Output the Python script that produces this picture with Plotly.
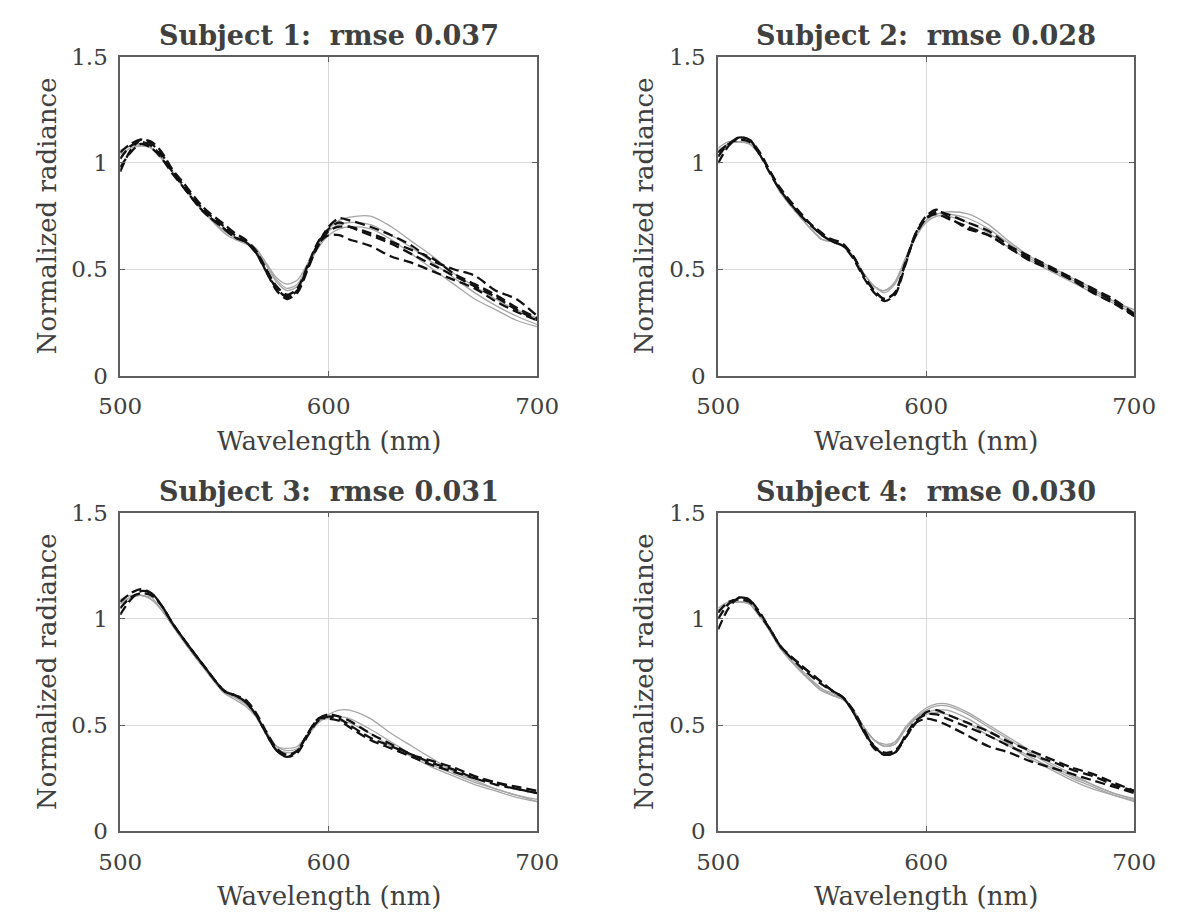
import plotly.graph_objects as go

# ---------------- data ----------------
wavelength = [500, 505, 510, 515, 520, 525, 530, 540, 550, 555, 560, 565, 570, 575, 580,
              585, 590, 595, 600, 605, 610, 620, 630, 640, 650, 660, 670, 680, 690, 700]

x_ticks = [500, 600, 700]
y_ticks = [0, 0.5, 1, 1.5]
y_tick_labels = ["0", "0.5", "1", "1.5"]

titles = ["Subject 1:  rmse 0.037", "Subject 2:  rmse 0.028",
          "Subject 3:  rmse 0.031", "Subject 4:  rmse 0.030"]

# Subject 1
s1_measured = [
    [0.96, 1.06, 1.11, 1.09, 1.04, 0.96, 0.90, 0.78, 0.70, 0.66, 0.63, 0.58, 0.49, 0.40, 0.36,
     0.39, 0.50, 0.62, 0.70, 0.74, 0.73, 0.70, 0.66, 0.61, 0.54, 0.50, 0.47, 0.40, 0.36, 0.28],
    [1.02, 1.08, 1.10, 1.08, 1.03, 0.96, 0.89, 0.77, 0.69, 0.65, 0.63, 0.58, 0.50, 0.41, 0.37,
     0.40, 0.51, 0.61, 0.68, 0.70, 0.70, 0.67, 0.63, 0.59, 0.55, 0.48, 0.43, 0.38, 0.32, 0.27],
    [1.05, 1.09, 1.11, 1.10, 1.05, 0.97, 0.91, 0.79, 0.71, 0.67, 0.64, 0.59, 0.50, 0.42, 0.38,
     0.41, 0.52, 0.63, 0.69, 0.72, 0.70, 0.66, 0.62, 0.57, 0.52, 0.47, 0.42, 0.37, 0.31, 0.26],
    [0.98, 1.05, 1.09, 1.07, 1.02, 0.95, 0.89, 0.77, 0.69, 0.65, 0.63, 0.58, 0.49, 0.41, 0.37,
     0.40, 0.51, 0.62, 0.66, 0.66, 0.64, 0.61, 0.56, 0.53, 0.49, 0.45, 0.41, 0.35, 0.30, 0.26],
]
s1_model = [
    [1.04, 1.07, 1.08, 1.07, 1.02, 0.96, 0.89, 0.77, 0.68, 0.65, 0.63, 0.60, 0.53, 0.46, 0.43,
     0.45, 0.53, 0.62, 0.69, 0.73, 0.745, 0.75, 0.70, 0.63, 0.56, 0.48, 0.42, 0.36, 0.31, 0.27],
    [1.06, 1.08, 1.09, 1.07, 1.02, 0.96, 0.89, 0.77, 0.67, 0.64, 0.62, 0.59, 0.52, 0.45, 0.41,
     0.43, 0.52, 0.61, 0.68, 0.71, 0.72, 0.71, 0.66, 0.60, 0.53, 0.46, 0.39, 0.33, 0.28, 0.24],
    [1.05, 1.08, 1.085, 1.07, 1.02, 0.96, 0.89, 0.77, 0.68, 0.65, 0.63, 0.59, 0.52, 0.44, 0.40,
     0.42, 0.51, 0.60, 0.66, 0.69, 0.70, 0.69, 0.64, 0.57, 0.50, 0.43, 0.36, 0.31, 0.26, 0.23],
]

# Subject 2
s2_measured = [
    [1.00, 1.08, 1.12, 1.11, 1.04, 0.95, 0.87, 0.75, 0.66, 0.63, 0.61, 0.55, 0.46, 0.39, 0.35,
     0.38, 0.52, 0.67, 0.75, 0.78, 0.75, 0.69, 0.66, 0.60, 0.55, 0.50, 0.45, 0.40, 0.35, 0.28],
    [1.03, 1.09, 1.11, 1.10, 1.04, 0.96, 0.87, 0.75, 0.67, 0.63, 0.61, 0.56, 0.47, 0.40, 0.36,
     0.39, 0.53, 0.66, 0.74, 0.77, 0.76, 0.72, 0.68, 0.61, 0.56, 0.51, 0.46, 0.41, 0.36, 0.29],
    [1.05, 1.09, 1.12, 1.11, 1.05, 0.96, 0.88, 0.76, 0.66, 0.64, 0.62, 0.56, 0.47, 0.40, 0.36,
     0.39, 0.53, 0.67, 0.74, 0.76, 0.74, 0.70, 0.66, 0.60, 0.54, 0.50, 0.45, 0.39, 0.34, 0.28],
]
s2_model = [
    [1.05, 1.09, 1.10, 1.09, 1.04, 0.95, 0.86, 0.74, 0.64, 0.63, 0.61, 0.56, 0.48, 0.42, 0.40,
     0.44, 0.55, 0.66, 0.73, 0.76, 0.76, 0.74, 0.69, 0.62, 0.55, 0.50, 0.45, 0.40, 0.35, 0.30],
    [1.06, 1.09, 1.10, 1.09, 1.04, 0.95, 0.86, 0.74, 0.64, 0.63, 0.61, 0.56, 0.48, 0.42, 0.39,
     0.43, 0.54, 0.65, 0.72, 0.75, 0.75, 0.72, 0.67, 0.60, 0.54, 0.49, 0.44, 0.39, 0.34, 0.29],
    [1.07, 1.10, 1.10, 1.09, 1.04, 0.95, 0.86, 0.74, 0.64, 0.63, 0.61, 0.56, 0.48, 0.42, 0.40,
     0.44, 0.55, 0.66, 0.73, 0.76, 0.77, 0.76, 0.71, 0.63, 0.56, 0.51, 0.46, 0.41, 0.35, 0.31],
]

# Subject 3
s3_measured = [
    [1.02, 1.09, 1.13, 1.12, 1.06, 0.98, 0.91, 0.78, 0.66, 0.64, 0.61, 0.55, 0.46, 0.38, 0.35,
     0.37, 0.45, 0.52, 0.54, 0.53, 0.50, 0.44, 0.40, 0.36, 0.32, 0.29, 0.25, 0.22, 0.20, 0.18],
    [1.08, 1.12, 1.14, 1.12, 1.06, 0.98, 0.91, 0.78, 0.66, 0.64, 0.61, 0.55, 0.46, 0.38, 0.35,
     0.38, 0.46, 0.53, 0.53, 0.52, 0.49, 0.43, 0.39, 0.35, 0.31, 0.28, 0.25, 0.23, 0.21, 0.19],
    [1.05, 1.10, 1.12, 1.11, 1.06, 0.98, 0.91, 0.78, 0.66, 0.64, 0.62, 0.56, 0.47, 0.39, 0.36,
     0.38, 0.46, 0.53, 0.55, 0.54, 0.52, 0.46, 0.41, 0.36, 0.33, 0.30, 0.26, 0.23, 0.20, 0.18],
]
s3_model = [
    [1.07, 1.10, 1.11, 1.09, 1.04, 0.97, 0.90, 0.77, 0.66, 0.63, 0.60, 0.55, 0.47, 0.40, 0.39,
     0.40, 0.46, 0.52, 0.55, 0.57, 0.57, 0.53, 0.46, 0.40, 0.34, 0.28, 0.24, 0.20, 0.17, 0.14],
    [1.08, 1.10, 1.11, 1.09, 1.04, 0.97, 0.90, 0.77, 0.65, 0.62, 0.59, 0.54, 0.46, 0.39, 0.37,
     0.38, 0.45, 0.51, 0.54, 0.54, 0.53, 0.48, 0.42, 0.36, 0.31, 0.27, 0.23, 0.20, 0.17, 0.15],
    [1.09, 1.11, 1.11, 1.10, 1.04, 0.97, 0.90, 0.77, 0.65, 0.63, 0.60, 0.55, 0.47, 0.40, 0.38,
     0.39, 0.46, 0.52, 0.53, 0.52, 0.51, 0.46, 0.40, 0.35, 0.30, 0.26, 0.22, 0.19, 0.16, 0.14],
]

# Subject 4
s4_measured = [
    [0.95, 1.05, 1.10, 1.09, 1.02, 0.95, 0.87, 0.78, 0.70, 0.66, 0.63, 0.56, 0.47, 0.39, 0.36,
     0.37, 0.44, 0.51, 0.56, 0.57, 0.55, 0.51, 0.47, 0.42, 0.38, 0.34, 0.30, 0.27, 0.23, 0.19],
    [1.00, 1.07, 1.10, 1.09, 1.03, 0.95, 0.87, 0.77, 0.69, 0.66, 0.63, 0.56, 0.47, 0.40, 0.36,
     0.37, 0.45, 0.52, 0.55, 0.55, 0.53, 0.49, 0.45, 0.40, 0.36, 0.33, 0.29, 0.26, 0.22, 0.19],
    [1.03, 1.08, 1.09, 1.08, 1.02, 0.95, 0.87, 0.78, 0.70, 0.66, 0.63, 0.57, 0.48, 0.40, 0.37,
     0.38, 0.44, 0.51, 0.53, 0.52, 0.50, 0.45, 0.40, 0.37, 0.33, 0.30, 0.27, 0.24, 0.21, 0.18],
]
s4_model = [
    [1.03, 1.07, 1.08, 1.07, 1.02, 0.94, 0.86, 0.75, 0.67, 0.64, 0.62, 0.57, 0.49, 0.43, 0.40,
     0.42, 0.48, 0.54, 0.58, 0.60, 0.60, 0.56, 0.50, 0.44, 0.38, 0.32, 0.27, 0.22, 0.18, 0.155],
    [1.04, 1.07, 1.08, 1.07, 1.01, 0.94, 0.86, 0.75, 0.66, 0.64, 0.62, 0.57, 0.49, 0.43, 0.40,
     0.41, 0.48, 0.53, 0.57, 0.59, 0.59, 0.55, 0.49, 0.43, 0.37, 0.31, 0.26, 0.22, 0.18, 0.15],
    [1.05, 1.08, 1.08, 1.07, 1.02, 0.94, 0.86, 0.76, 0.67, 0.65, 0.62, 0.57, 0.49, 0.43, 0.41,
     0.42, 0.49, 0.54, 0.56, 0.57, 0.57, 0.53, 0.47, 0.41, 0.35, 0.30, 0.25, 0.21, 0.17, 0.145],
    [1.04, 1.07, 1.08, 1.07, 1.01, 0.94, 0.86, 0.75, 0.66, 0.64, 0.62, 0.57, 0.49, 0.43, 0.40,
     0.41, 0.48, 0.53, 0.55, 0.56, 0.55, 0.51, 0.45, 0.40, 0.34, 0.29, 0.24, 0.20, 0.17, 0.14],
]

subjects = [(s1_measured, s1_model), (s2_measured, s2_model),
            (s3_measured, s3_model), (s4_measured, s4_model)]

# ---------------- layout geometry ----------------
W, H = 1186, 924
x_domains = [[102 / W, 535 / W], [723 / W, 1155 / W]]
y_domains = [[1 - 373 / H, 1 - 45 / H], [1 - 842 / H, 1 - 514 / H]]

FONT = "DejaVu Serif"
TXT = "#404040"
AXC = "#5e5e5e"

fig = go.Figure()
annotations = []

for i, (meas, model) in enumerate(subjects):
    row, col = divmod(i, 2)
    n = i + 1
    xa = "x" if n == 1 else f"x{n}"
    ya = "y" if n == 1 else f"y{n}"
    for m in model:
        fig.add_trace(go.Scatter(x=wavelength, y=m, mode="lines", xaxis=xa, yaxis=ya,
                                 line=dict(color="#a6a6a6", width=1.3, shape="spline", smoothing=0.8),
                                 showlegend=False, hoverinfo="skip"))
    for m in meas:
        fig.add_trace(go.Scatter(x=wavelength, y=m, mode="lines", xaxis=xa, yaxis=ya,
                                 line=dict(color="#111111", width=2.3, dash="10px,5px",
                                           shape="spline", smoothing=0.8),
                                 showlegend=False, hoverinfo="skip"))

    axis_common = dict(showline=True, linecolor=AXC, linewidth=1.7, mirror="ticks",
                       ticks="inside", ticklen=5, tickcolor=AXC, tickwidth=1,
                       showgrid=True, gridcolor="#d9d9d9", gridwidth=1, zeroline=False,
                       tickfont=dict(family=FONT, size=23, color=TXT))
    xkey = "xaxis" if n == 1 else f"xaxis{n}"
    ykey = "yaxis" if n == 1 else f"yaxis{n}"
    fig.update_layout(**{
        xkey: dict(domain=x_domains[col], anchor=ya, range=[500, 700],
                   tickvals=x_ticks, ticktext=[str(v) for v in x_ticks],
                   ticklabelstandoff=9, **axis_common),
        ykey: dict(domain=y_domains[row], anchor=xa, range=[0, 1.5],
                   tickvals=y_ticks, ticktext=y_tick_labels,
                   ticklabelstandoff=6, **axis_common),
    })

    xc = (x_domains[col][0] + x_domains[col][1]) / 2
    ytop = y_domains[row][1]
    ybot = y_domains[row][0]
    yc = (ytop + ybot) / 2
    # title
    annotations.append(dict(text=f"<b>{titles[i]}</b>", xref="paper", yref="paper",
                            x=xc, y=ytop + 22 / H, xanchor="center", yanchor="middle",
                            showarrow=False, font=dict(family=FONT, size=27, color=TXT)))
    # x label
    annotations.append(dict(text="Wavelength (nm)", xref="paper", yref="paper",
                            x=xc, y=ybot - 67 / H, xanchor="center", yanchor="middle",
                            showarrow=False, font=dict(family=FONT, size=26, color=TXT)))
    # y label
    xl = (26 if col == 0 else 646) / W
    annotations.append(dict(text="Normalized radiance", xref="paper", yref="paper",
                            x=xl, y=yc, xanchor="center", yanchor="middle", textangle=-90,
                            showarrow=False, font=dict(family=FONT, size=26, color=TXT)))

fig.update_layout(width=W, height=H, margin=dict(l=0, r=0, t=0, b=0),
                  paper_bgcolor="white", plot_bgcolor="white",
                  annotations=annotations)

fig.write_html("out.html")
